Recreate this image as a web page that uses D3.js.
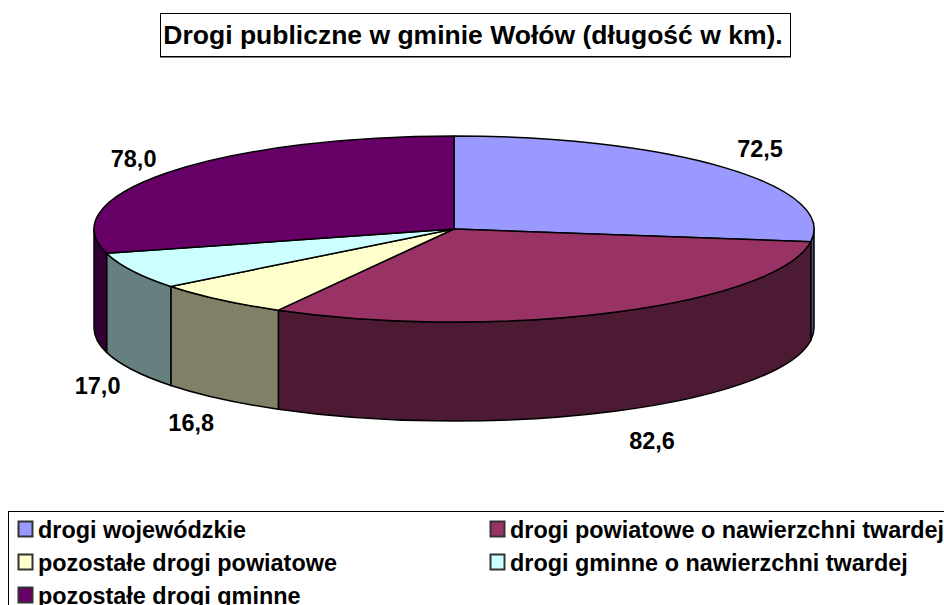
<!DOCTYPE html>
<html><head><meta charset="utf-8">
<style>html,body{margin:0;padding:0;background:#fff;overflow:hidden}svg{display:block}text{font-family:"Liberation Sans",Arial,sans-serif;font-weight:bold;fill:#000}</style>
<script src="https://cdn.jsdelivr.net/npm/d3@7/dist/d3.min.js"></script>
</head><body><svg id="c" width="944" height="605"></svg>
<script>
const categories=["drogi wojewódzkie","drogi powiatowe o nawierzchni twardej","pozostałe drogi powiatowe","drogi gminne o nawierzchni twardej","pozostałe drogi gminne"];
const values=[72.5,82.6,16.8,17.0,78.0];
const valueLabels=["72,5","82,6","16,8","17,0","78,0"];
const topColors=["#9999FF","#993366","#FFFFCC","#CCFFFF","#660066"];
const sideColors=["#4D4D80","#4D1A33","#808066","#668080","#330033"];
const titleText="Drogi publiczne w gminie Wołów (długość w km).";

const W=944,H=605,cx=454,cy=229,rx=360,ry=93,depth=99;
const svg=d3.select("#c");
const X=d3.scaleLinear().domain([-1,1]).range([cx-rx,cx+rx]);
const Y=d3.scaleLinear().domain([-1,1]).range([cy-ry,cy+ry]);
const pie=d3.pie().sort(null).value(d=>d).startAngle(0).endAngle(2*Math.PI);
const arcs=pie(values);
const px=a=>X(Math.sin(a)), py=a=>Y(-Math.cos(a));

const lo=Math.PI/2, hi=3*Math.PI/2;
function wall(a0,a1){
  const x0=px(a0),y0=py(a0),x1=px(a1),y1=py(a1);
  const large=(a1-a0)>Math.PI?1:0;
  return `M${x0},${y0}A${rx},${ry} 0 ${large} 1 ${x1},${y1}L${x1},${y1+depth}A${rx},${ry} 0 ${large} 0 ${x0},${y0+depth}Z`;
}
arcs.forEach((d,i)=>{
  const a0=Math.max(d.startAngle,lo),a1=Math.min(d.endAngle,hi);
  if(a1>a0) svg.append("path").attr("d",wall(a0,a1)).attr("fill",sideColors[i]).attr("stroke","#000").attr("stroke-width",1.5).attr("stroke-linejoin","round");
});
const unit=d3.arc().innerRadius(0).outerRadius(1);
arcs.forEach((d,i)=>{
  svg.append("path").attr("d",unit(d))
    .attr("transform",`translate(${cx},${cy}) scale(${rx},${ry})`)
    .attr("fill",topColors[i]).attr("stroke","#000").attr("stroke-width",1.5)
    .attr("vector-effect","non-scaling-stroke").attr("stroke-linejoin","round");
});
const labelAnchor=[[0.85,-0.86],[0.55,2.28],[-0.73,2.08],[-0.99,1.69],[-0.89,-0.76]];
valueLabels.forEach((t,i)=>{
  svg.append("text").attr("x",X(labelAnchor[i][0])).attr("y",Y(labelAnchor[i][1])).attr("dy","0.35em")
    .attr("text-anchor","middle").attr("font-size",23.5).text(t);
});
svg.append("rect").attr("x",160.5).attr("y",13.5).attr("width",630).attr("height",43).attr("fill","#fff").attr("stroke","#000");
svg.append("line").attr("x1",160).attr("x2",791).attr("y1",57.5).attr("y2",57.5).attr("stroke","#808080");
svg.append("text").attr("x",473).attr("y",44).attr("text-anchor","middle").attr("font-size",26.5).text(titleText);
svg.append("rect").attr("x",8.5).attr("y",511.5).attr("width",W).attr("height",H).attr("fill","#fff").attr("stroke","#000");
const cols=[38,510],rows=[530,563,596];
categories.forEach((c,i)=>{
  const lx=cols[i%2],ly=rows[Math.floor(i/2)];
  svg.append("rect").attr("x",lx-19.5).attr("y",ly-8.5).attr("width",14).attr("height",15).attr("fill",topColors[i]).attr("stroke","#333").attr("stroke-width",2);
  svg.append("text").attr("x",lx).attr("y",ly+7.5).attr("font-size",23.4).text(c);
});
</script></body></html>
